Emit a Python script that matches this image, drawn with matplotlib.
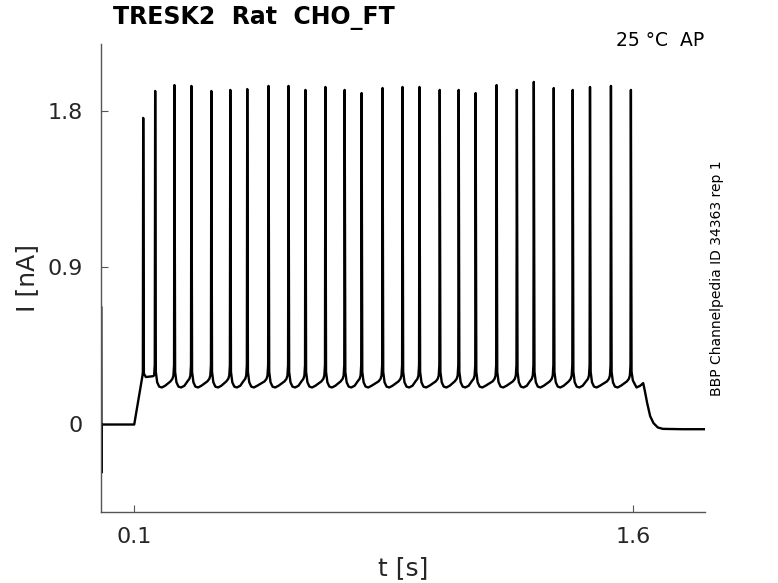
import matplotlib
matplotlib.use("Agg")
import matplotlib.pyplot as plt
import numpy as np

# spike peak times [s] and peak currents [nA]
spike_t = [0.127, 0.163, 0.221, 0.272, 0.332, 0.389, 0.440, 0.504, 0.564,
           0.615, 0.675, 0.733, 0.784, 0.847, 0.907, 0.958, 1.019, 1.076,
           1.127, 1.190, 1.251, 1.302, 1.362, 1.419, 1.471, 1.534, 1.594]
spike_i = [1.76, 1.915, 1.949, 1.944, 1.915, 1.921, 1.926, 1.944, 1.944,
           1.921, 1.938, 1.921, 1.903, 1.932, 1.938, 1.938, 1.921, 1.921,
           1.903, 1.949, 1.921, 1.967, 1.932, 1.921, 1.938, 1.944, 1.921]

# shape of the trace around one spike: (dt from peak [s], current [nA])
after_spike_dt = [0.002, 0.006, 0.012, 0.020, 0.030]
after_spike_i = [0.30, 0.24, 0.215, 0.21, 0.22]
before_spike_dt = [-0.012, -0.006, -0.003, -0.0012]
before_spike_i = [0.245, 0.26, 0.28, 0.34]

# start of the recording (capacitive transient, baseline, ramp)
start_t = [0.001, 0.0015, 0.002, 0.003, 0.05, 0.1, 0.125]
start_i = [0.67, -0.28, 0.0, -0.003, -0.003, -0.003, 0.28]

# end of the recording (after last spike)
end_t = [1.600, 1.611, 1.622, 1.628, 1.631, 1.636, 1.643, 1.652, 1.662,
         1.675, 1.69, 1.75, 1.817]
end_i = [0.25, 0.21, 0.22, 0.23, 0.235, 0.19, 0.12, 0.045, 0.005,
         -0.02, -0.028, -0.03, -0.03]

x_ticks = [0.1, 1.6]
y_ticks = [0, 0.9, 1.8]


def build_trace():
    t = list(start_t)
    i = list(start_i)
    for k, (tp, ip) in enumerate(zip(spike_t, spike_i)):
        if k == 0:
            t += [tp - 0.001]
            i += [0.30]
        else:
            for dt, v in zip(before_spike_dt, before_spike_i):
                if tp + dt > t[-1]:
                    t.append(tp + dt)
                    i.append(v)
        t.append(tp)
        i.append(ip)
        if k == 0:
            t += [tp + 0.002, tp + 0.008, tp + 0.03]
            i += [0.29, 0.27, 0.275]
        elif k < len(spike_t) - 1:
            nxt = spike_t[k + 1]
            for dt, v in zip(after_spike_dt, after_spike_i):
                if tp + dt < nxt + before_spike_dt[0]:
                    t.append(tp + dt)
                    i.append(v)
        else:
            t.append(tp + 0.002)
            i.append(0.30)
    t += end_t
    i += end_i
    return np.array(t), np.array(i)


def main() -> None:
    t, cur = build_trace()

    fig = plt.figure(figsize=(7.78, 5.83), dpi=100)
    ax = fig.add_axes([0.1298, 0.1218, 0.7764, 0.8027])
    ax.plot(t, cur, color="black", linewidth=1.7, solid_joinstyle="round")

    ax.set_xlim(0.0, 1.817)
    ax.set_ylim(-0.506, 2.185)
    ax.set_xticks(x_ticks)
    ax.set_xticklabels(["0.1", "1.6"])
    ax.set_yticks(y_ticks)
    ax.set_yticklabels(["0", "0.9", "1.8"])

    for side in ("top", "right"):
        ax.spines[side].set_visible(False)
    for side in ("left", "bottom"):
        ax.spines[side].set_color("#555555")
        ax.spines[side].set_linewidth(1.0)
    ax.tick_params(direction="in", length=5, color="#555555",
                   labelsize=16, labelcolor="#262626")
    ax.tick_params(axis="y", pad=13)
    ax.tick_params(axis="x", pad=11)

    ax.set_xlabel("t [s]", fontsize=18, color="#262626", labelpad=6)
    ax.set_ylabel("I [nA]", fontsize=18, color="#262626", labelpad=6)

    fig.text(0.1452, 0.969, "TRESK2  Rat  CHO_FT", fontsize=17,
             fontweight="bold", ha="left", va="center")
    fig.text(0.905, 0.931, "25 °C  AP", fontsize=13.5, ha="right", va="center")
    fig.text(0.921, 0.522, "BBP Channelpedia ID 34363 rep 1", fontsize=10,
             rotation=90, ha="center", va="center")

    fig.savefig("out.png", dpi=100)
    plt.close(fig)


if __name__ == "__main__":
    main()
